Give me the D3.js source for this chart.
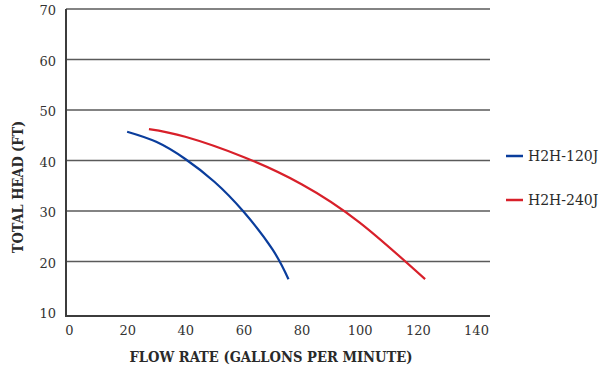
<!DOCTYPE html>
<html>
<head>
<meta charset="utf-8">
<script src="https://cdn.jsdelivr.net/npm/d3@7"></script>
<style>
  html, body { margin: 0; padding: 0; background: #fff; }
  svg { display: block; }
  .tick text { font-family: "DejaVu Serif", serif; }
</style>
</head>
<body>
<svg id="chart" width="605" height="371"></svg>
<script>
// Pump performance curves: total head vs. flow rate
const xTicks = [0, 20, 40, 60, 80, 100, 120, 140];
const yTicks = [10, 20, 30, 40, 50, 60, 70];

const seriesNames = ["H2H-120J", "H2H-240J"];
const seriesColors = ["#0a3d9c", "#d8202a"];

const flow120 = [20, 30, 40, 50, 60, 70, 75.5];
const head120 = [45.7, 43.7, 40.3, 35.8, 29.9, 22.4, 16.5];

const flow240 = [27.5, 40, 60, 80, 100, 122.5];
const head240 = [46.2, 44.7, 40.7, 35.3, 27.7, 16.5];

(function () {
const svg = d3.select("#chart");

const plotLeft = 66, plotRight = 490, plotTop = 9, plotBottom = 316;

const x = d3.scaleLinear().domain([0, 140]).range([69, 476]);
const y = d3.scaleLinear().domain([10, 70]).range([312, 9]);

// horizontal gridlines (skip the baseline)
svg.append("g")
  .selectAll("line")
  .data(yTicks.filter(d => d > 10))
  .join("line")
  .attr("x1", plotLeft).attr("x2", plotRight)
  .attr("y1", d => y(d)).attr("y2", d => y(d))
  .attr("stroke", "#5a5a5a")
  .attr("stroke-width", 1.3);

// axis frame
svg.append("line")
  .attr("x1", plotLeft).attr("x2", plotLeft)
  .attr("y1", plotTop).attr("y2", plotBottom)
  .attr("stroke", "#3c3c3c").attr("stroke-width", 2);
svg.append("line")
  .attr("x1", plotLeft - 1).attr("x2", plotRight)
  .attr("y1", plotBottom).attr("y2", plotBottom)
  .attr("stroke", "#3c3c3c").attr("stroke-width", 2);

// y tick labels
const yAxis = d3.axisLeft(y).tickValues(yTicks).tickSize(0).tickPadding(0);
const gy = svg.append("g").attr("transform", `translate(${plotLeft - 10},0)`).call(yAxis);
gy.select(".domain").remove();
gy.selectAll("text")
  .attr("font-size", 13)
  .attr("fill", "#333")
  .attr("dy", "0.45em");

// x tick labels
const xAxis = d3.axisBottom(x).tickValues(xTicks).tickSize(0).tickPadding(0);
const gx = svg.append("g").attr("transform", `translate(0,${plotBottom + 9})`).call(xAxis);
gx.select(".domain").remove();
gx.selectAll("text")
  .attr("font-size", 13)
  .attr("fill", "#333")
  .attr("dy", "0.75em");

// axis titles
svg.append("text")
  .attr("x", 271).attr("y", 362)
  .attr("text-anchor", "middle")
  .attr("font-family", "DejaVu Serif Condensed, DejaVu Serif, serif")
  .attr("font-weight", "bold")
  .attr("font-size", 14.6)
  .attr("fill", "#2a2a2a")
  .text("FLOW RATE (GALLONS PER MINUTE)");

svg.append("text")
  .attr("transform", "translate(23,187) rotate(-90)")
  .attr("text-anchor", "middle")
  .attr("font-family", "DejaVu Serif Condensed, DejaVu Serif, serif")
  .attr("font-weight", "bold")
  .attr("font-size", 14.4)
  .attr("fill", "#2a2a2a")
  .text("TOTAL HEAD (FT)");

// curves
const line = d3.line()
  .x(d => x(d[0]))
  .y(d => y(d[1]))
  .curve(d3.curveNatural);

const series = [
  d3.zip(flow120, head120),
  d3.zip(flow240, head240)
];

svg.append("g")
  .selectAll("path")
  .data(series)
  .join("path")
  .attr("d", line)
  .attr("fill", "none")
  .attr("stroke", (d, i) => seriesColors[i])
  .attr("stroke-width", 2.2);

// legend
const legendY = [156, 200];
const lg = svg.append("g")
  .selectAll("g")
  .data(seriesNames)
  .join("g")
  .attr("transform", (d, i) => `translate(506,${legendY[i]})`);
lg.append("line")
  .attr("x1", 0).attr("x2", 17)
  .attr("stroke", (d, i) => seriesColors[i])
  .attr("stroke-width", 2.5);
lg.append("text")
  .attr("x", 22)
  .attr("dy", "0.35em")
  .attr("font-family", "DejaVu Serif, serif")
  .attr("font-size", 14)
  .attr("fill", "#2a2a2a")
  .text(d => d);
})();
</script>
</body>
</html>
